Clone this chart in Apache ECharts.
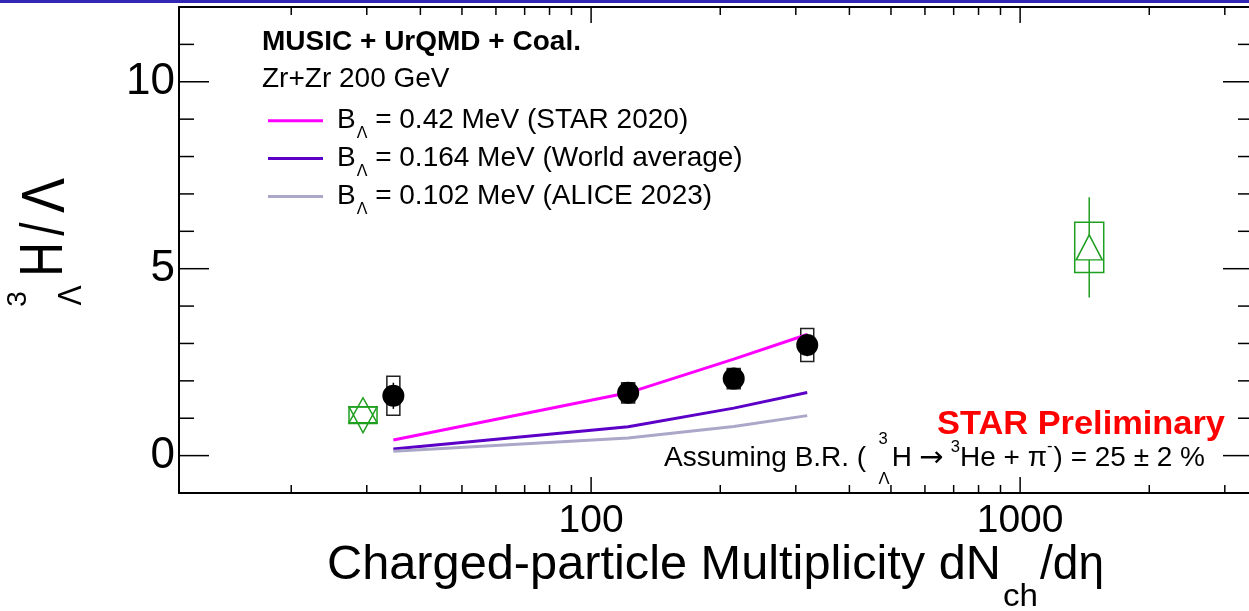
<!DOCTYPE html>
<html><head><meta charset="utf-8">
<script src="https://cdn.jsdelivr.net/npm/echarts@6/dist/echarts.min.js"></script>
<style>html,body{margin:0;padding:0;background:#fff;overflow:hidden}#c{width:1249px;height:611px}</style>
</head><body><div id="c"></div>
<script>
// ---------------- data ----------------
const starMult  = [34.6, 122, 215, 319];
const starRatio = [1.60, 1.68, 2.06, 2.96];
const starStat  = [0.35, 0.15, 0.20, 0.30];
const starSys   = [0.52, 0.27, 0.27, 0.44];

const modelMult   = [34.6, 122, 215, 319];
const modelBL042  = [0.42, 1.68, 2.58, 3.24];
const modelBL0164 = [0.18, 0.77, 1.27, 1.69];
const modelBL0102 = [0.12, 0.47, 0.78, 1.07];
const modelLabels = [' = 0.42 MeV (STAR 2020)', ' = 0.164 MeV (World average)', ' = 0.102 MeV (ALICE 2023)'];

const lowMult  = [29.4];
const lowRatio = [1.08];
const lowSys   = [0.22];

const highMult  = [1449];
const highRatio = [5.57];
const highStat  = [1.34];
const highSys   = [0.67];

const xMajorTicks = [100, 1000];
const xMinorTicks = [20, 30, 40, 50, 60, 70, 80, 90, 200, 300, 400, 500, 600, 700, 800, 900, 2000, 3000];
const yMajorTicks = [0, 5, 10];
const yMinorTicks = [1, 2, 3, 4, 6, 7, 8, 9, 11];
const yLabelValues = [0, 5, 10];

// ---------------- helpers ----------------
const FONT = "'Liberation Sans', Arial, Helvetica, sans-serif";
const mctx = document.createElement('canvas').getContext('2d');
function tw(s, size, weight, fam) { mctx.font = (weight || 'normal') + ' ' + size + 'px ' + (fam || FONT); return mctx.measureText(s).width; }
function T(s, x, y, size, o) {
  o = o || {};
  const w = tw(s, size, o.weight, o.fam);
  const sx = o.width ? o.width / w : (o.sx || 1);
  return {
    type: 'text', x: x, y: y, rotation: o.rot || 0, scaleX: sx, scaleY: o.sy || 1, silent: true, z: 100,
    style: { text: s, fontSize: size, fontFamily: o.fam || FONT, fontWeight: o.weight || 'normal', fill: o.color || '#000',
             align: o.align || 'left', verticalAlign: 'middle' }
  };
}

const GREEN = '#1f9f1f';
const lineColors = ['#ff00ff', '#5c00c8', '#aaa7c8'];

function tickSeries(values, axis, len) {
  return {
    type: 'custom', xAxisIndex: 0, yAxisIndex: 0, z: 10, silent: true, clip: false,
    data: values.map(v => axis === 'x' ? [v, 0] : [100, v]),
    renderItem: function (p, api) {
      const cs = p.coordSys;
      const pt = api.coord([api.value(0), api.value(1)]);
      const st = { stroke: '#000', lineWidth: 1.5, fill: 'none' };
      if (axis === 'x') {
        const yb = cs.y + cs.height, yt = cs.y;
        return { type: 'group', children: [
          { type: 'line', shape: { x1: pt[0], y1: yb, x2: pt[0], y2: yb - len }, style: st },
          { type: 'line', shape: { x1: pt[0], y1: yt, x2: pt[0], y2: yt + len }, style: st }
        ] };
      }
      const xl = cs.x, xr = cs.x + cs.width;
      return { type: 'group', children: [
        { type: 'line', shape: { x1: xl, y1: pt[1], x2: xl + len, y2: pt[1] }, style: st },
        { type: 'line', shape: { x1: xr, y1: pt[1], x2: xr - len, y2: pt[1] }, style: st }
      ] };
    }
  };
}

function sysBoxSeries(xs, ys, sys, width, color) {
  return {
    type: 'custom', xAxisIndex: 0, yAxisIndex: 0, z: 3, silent: true,
    data: xs.map((x, i) => [x, ys[i], sys[i]]),
    renderItem: function (p, api) {
      const x = api.value(0), y = api.value(1), s = api.value(2);
      const a = api.coord([x, y + s]), b = api.coord([x, y - s]);
      return { type: 'rect', shape: { x: a[0] - width / 2, y: a[1], width: width, height: b[1] - a[1] },
               style: { fill: 'none', stroke: color, lineWidth: 1.5 } };
    }
  };
}

function statBarSeries(xs, ys, stat, gap, color) {
  return {
    type: 'custom', xAxisIndex: 0, yAxisIndex: 0, z: 3, silent: true,
    data: xs.map((x, i) => [x, ys[i], stat[i]]),
    renderItem: function (p, api) {
      const x = api.value(0), y = api.value(1), s = api.value(2);
      const a = api.coord([x, y + s]), c = api.coord([x, y]), b = api.coord([x, y - s]);
      const st = { stroke: color, lineWidth: 1.5, fill: 'none' };
      return { type: 'group', children: [
        { type: 'line', shape: { x1: a[0], y1: a[1], x2: a[0], y2: c[1] - gap }, style: st },
        { type: 'line', shape: { x1: b[0], y1: c[1] + gap, x2: b[0], y2: b[1] }, style: st }
      ] };
    }
  };
}

const modelValues = [modelBL042, modelBL0164, modelBL0102];
const modelNames = modelLabels.map(l => 'B\u039B' + l);

const series = [];
series.push(sysBoxSeries(starMult, starRatio, starSys, 13, '#222'));
series.push(statBarSeries(starMult, starRatio, starStat, 0, '#000'));
modelValues.forEach((vals, k) => {
  series.push({
    type: 'line', name: modelNames[k], xAxisIndex: 0, yAxisIndex: 0, z: 4, silent: true,
    data: modelMult.map((x, i) => [x, vals[i]]), symbol: 'none', smooth: false,
    lineStyle: { color: lineColors[k], width: 3 }, itemStyle: { color: lineColors[k] }
  });
});
series.push({
  type: 'scatter', name: 'STAR', xAxisIndex: 0, yAxisIndex: 0, z: 6, silent: true,
  data: starMult.map((x, i) => [x, starRatio[i]]), symbol: 'circle', symbolSize: 22,
  itemStyle: { color: '#000', opacity: 1 }
});
series.push(sysBoxSeries(lowMult, lowRatio, lowSys, 28, GREEN));
series.push({
  type: 'scatter', name: 'low', xAxisIndex: 0, yAxisIndex: 0, z: 6, silent: true,
  data: lowMult.map((x, i) => [x, lowRatio[i]]),
  symbol: 'path://M14,0 L28,25 L0,25 Z M14,35 L28,9 L0,9 Z', symbolSize: [28, 35],
  itemStyle: { color: 'rgba(0,0,0,0)', borderColor: GREEN, borderWidth: 1.5, opacity: 1 }
});
series.push(sysBoxSeries(highMult, highRatio, highSys, 29, GREEN));
series.push(statBarSeries(highMult, highRatio, highStat, 12.5, GREEN));
series.push({
  type: 'scatter', name: 'high', xAxisIndex: 0, yAxisIndex: 0, z: 6, silent: true,
  data: highMult.map((x, i) => [x, highRatio[i]]),
  symbol: 'triangle', symbolSize: [26, 25],
  itemStyle: { color: 'rgba(0,0,0,0)', borderColor: GREEN, borderWidth: 1.5, opacity: 1 }
});
series.push(tickSeries(xMajorTicks, 'x', 16));
series.push(tickSeries(xMinorTicks, 'x', 8));
series.push(tickSeries(yMajorTicks, 'y', 30));
series.push(tickSeries(yMinorTicks, 'y', 15));

const LFS = 28;
const legendRich = {
  b: { fontSize: LFS, fontFamily: FONT, color: '#000', lineHeight: 32, verticalAlign: 'middle', padding: [0, 0, 0, 9] },
  s: { fontSize: 16, fontFamily: FONT, color: '#000', lineHeight: 16, verticalAlign: 'middle', padding: [26, 0, 0, 1] },
  m: { fontSize: LFS, fontFamily: FONT, color: '#000', lineHeight: 32, verticalAlign: 'middle' }
};
const legendCenters = [120.7, 158.5, 196.5];
const legends = modelNames.map((nm, k) => ({
  data: [nm], left: 268, top: legendCenters[k] - 21, padding: 0, orient: 'vertical',
  icon: 'rect', itemWidth: 55, itemHeight: 3, selectedMode: false,
  textStyle: { fontSize: LFS, fontFamily: FONT, color: '#000', rich: legendRich },
  formatter: function () { return '{b|B}{s|\u039B}{m|' + modelLabels[k] + '}'; }
}));

function fmtX(v) { const l = Math.log10(v); return Math.abs(l - Math.round(l)) < 1e-6 ? String(Math.round(v)) : ''; }

const xBase = { type: 'log', logBase: 10, min: 10.95, max: 3490, splitLine: { show: false }, minorSplitLine: { show: false },
  axisTick: { show: false }, minorTick: { show: false } };
const yBase = { type: 'value', min: -1, max: 12, splitLine: { show: false }, minorSplitLine: { show: false },
  axisTick: { show: false }, minorTick: { show: false } };
const axLine = { show: true, onZero: false, lineStyle: { color: '#000', width: 2 } };

// ---------------- text pieces ----------------
const gtexts = [];
// header
gtexts.push(T('MUSIC + UrQMD + Coal.', 262, 42, 28, { weight: 'bold' }));
gtexts.push(T('Zr+Zr 200 GeV', 262, 79, 28));
// STAR Preliminary
gtexts.push(T('STAR Preliminary', 937, 425, 34, { weight: 'bold', width: 288, color: '#ff0000' }));
// assumption line: laid out sequentially, then fitted to its extent in the picture
(function () {
  const F = 27, f = 16, cy = 459, ARROWF = "'DejaVu Sans', sans-serif";
  const parts = [];
  let off = 0;
  function add(s, size, dy, adv, fam) { parts.push({ s: s, size: size, off: off, dy: dy, fam: fam }); if (adv !== false) off += tw(s, size, null, fam); }
  add('Assuming B.R. (', F, 0); off += 12;
  const stackW = Math.max(tw('3', f), tw('\u039B', f));
  add('3', f, -19, false); add('\u039B', f, 21, false); off += stackW + 2;
  add('H', F, 0); off += 7;
  add('\u2192', 28, 0, true, ARROWF); off += 7;
  add('3', f, -11); add('He + \u03C0', F, 0); add('-', f, -12); off += 1;
  add(') = 25 \u00B1 2 %', F, 0);
  const fit = (1205 - 664) / off;
  parts.forEach(p => gtexts.push(T(p.s, 664 + p.off * fit, cy + p.dy, p.size, { sx: fit, fam: p.fam })));
})();
// x title
gtexts.push(T('Charged-particle Multiplicity dN', 327, 565, 49, { width: 674 }));
gtexts.push(T('ch', 1003, 597, 32, { width: 35 }));
gtexts.push(T('/d\u03B7', 1040, 565, 49, { width: 64 }));
// y title (rotated, reads bottom to top)
const R = Math.PI / 2;
gtexts.push(T('3', 18.5, 299, 28, { rot: R, align: 'center' }));
gtexts.push(T('\u039B', 71.5, 295.5, 30, { rot: R, align: 'center', sy: 1.1 }));
gtexts.push(T('H', 45, 259.5, 48, { rot: R, align: 'center', sy: 1.28 }));
gtexts.push(T('/', 46, 229, 48, { rot: R, align: 'center', sy: 1.28 }));
gtexts.push(T('\u039B', 47, 195.5, 48, { rot: R, align: 'center', sy: 1.28, width: 35 }));
// slide header band
gtexts.push({ type: 'rect', shape: { x: 0, y: 0, width: 1249, height: 3 }, style: { fill: '#3228b4' }, silent: true, z: 100 });

const option = {
  animation: false,
  backgroundColor: '#fff',
  textStyle: { fontFamily: FONT },
  grid: { left: 179, top: 7, right: -4, bottom: 118, containLabel: false, outerBoundsMode: 'none' },
  legend: legends,
  xAxis: [
    Object.assign({}, xBase, { position: 'bottom', axisLine: axLine,
      axisLabel: { show: true, fontSize: 39, fontFamily: FONT, color: '#000', margin: 9, formatter: fmtX, hideOverlap: false } }),
    Object.assign({}, xBase, { position: 'top', axisLine: axLine, axisLabel: { show: false } })
  ],
  yAxis: [
    Object.assign({}, yBase, { position: 'left', axisLine: axLine,
      axisLabel: { show: true, customValues: yLabelValues, fontSize: 44, fontFamily: FONT, color: '#000', margin: 4,
        formatter: function (v) { return yLabelValues.indexOf(v) >= 0 ? String(v) : ''; } } }),
    Object.assign({}, yBase, { position: 'right', axisLine: axLine, axisLabel: { show: false } })
  ],
  series: series,
  graphic: gtexts
};
const chart = echarts.init(document.getElementById('c'), null, { renderer: 'canvas' });
chart.setOption(option);
</script>
</body></html>
